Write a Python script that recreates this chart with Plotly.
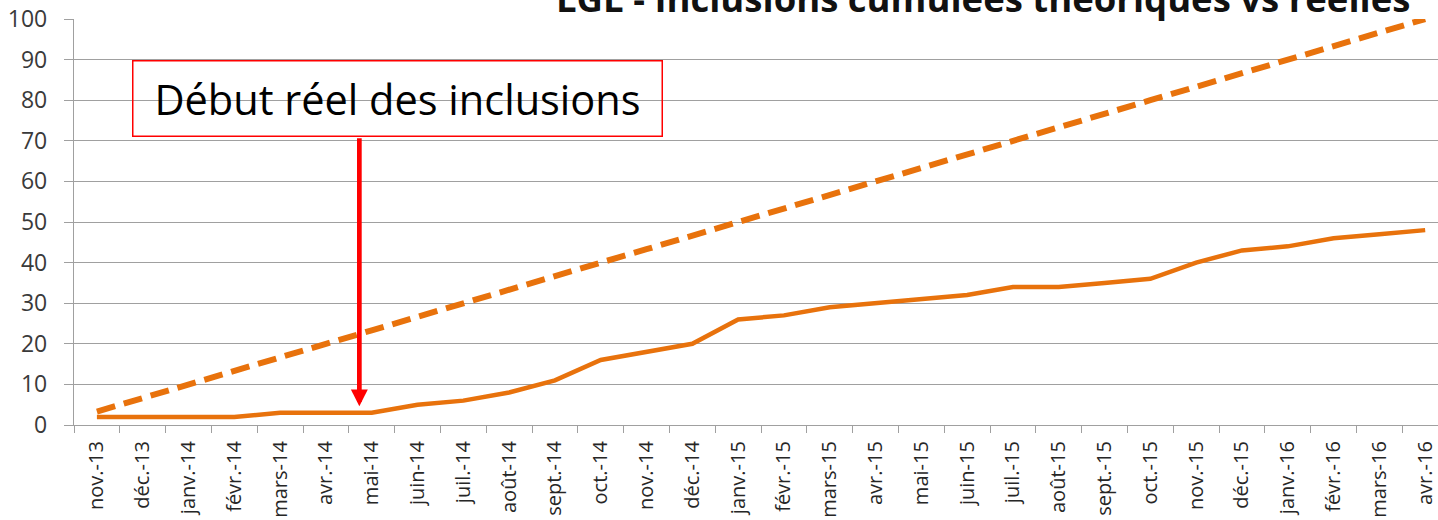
import plotly.graph_objects as go

months = ['nov.-13', 'déc.-13', 'janv.-14', 'févr.-14', 'mars-14', 'avr.-14', 'mai-14',
          'juin-14', 'juil.-14', 'août-14', 'sept.-14', 'oct.-14', 'nov.-14', 'déc.-14',
          'janv.-15', 'févr.-15', 'mars-15', 'avr.-15', 'mai-15', 'juin-15', 'juil.-15',
          'août-15', 'sept.-15', 'oct.-15', 'nov.-15', 'déc.-15', 'janv.-16', 'févr.-16',
          'mars-16', 'avr.-16']

theoretical = [3.3, 6.7, 10, 13.3, 16.7, 20, 23.3, 26.7, 30, 33.3, 36.7, 40, 43.3, 46.7, 50,
               53.3, 56.7, 60, 63.3, 66.7, 70, 73.3, 76.7, 80, 83.3, 86.7, 90, 93.3, 96.7, 100]

real = [2, 2, 2, 2, 3, 3, 3, 5, 6, 8, 11, 16, 18, 20, 26,
        27, 29, 30, 31, 32, 34, 34, 35, 36, 40, 43, 44, 46, 47, 48]

y_ticks = [0, 10, 20, 30, 40, 50, 60, 70, 80, 90, 100]

title_text = "LGL - Inclusions cumulées théoriques vs réelles"
note_text = "Début réel des inclusions"

ORANGE = "#E8720C"
GRID = "#A0A0A0"
FONT = "Open Sans"

fig = go.Figure()
fig.add_trace(go.Scatter(x=months, y=theoretical, mode="lines",
                         line=dict(color=ORANGE, width=6, dash="19px,9px"),
                         showlegend=False, hoverinfo="skip"))
fig.add_trace(go.Scatter(x=months, y=real, mode="lines",
                         line=dict(color=ORANGE, width=4.5),
                         showlegend=False, hoverinfo="skip"))

fig.update_layout(
    width=1438, height=520,
    margin=dict(l=74, r=0, t=19, b=95),
    paper_bgcolor="white", plot_bgcolor="white",
    font=dict(family=FONT, color="#3A3A3A"),
    xaxis=dict(type="category", range=[-0.5, 29.28], tickson="boundaries",
               ticks="outside", ticklen=7, tickcolor=GRID, tickwidth=1.3,
               showgrid=False, showline=True, linecolor=GRID, linewidth=1.3,
               tickangle=-90, tickfont=dict(size=20, family=FONT, color="#262626"),
               ticklabelstandoff=7, fixedrange=True),
    yaxis=dict(range=[0, 100], tickvals=y_ticks, ticks="outside", ticklen=9,
               tickcolor=GRID, tickwidth=1.3, showgrid=True, gridcolor=GRID,
               gridwidth=1.3, showline=True, linecolor=GRID, linewidth=1.3,
               zeroline=False, tickfont=dict(size=23, family=FONT, color="#3A3A3A"),
               ticklabelstandoff=12, fixedrange=True),
)

# Title (partly cut off at the top as in the reference)
fig.add_annotation(text="<b>" + title_text + "</b>", xref="paper", yref="paper",
                   x=0.6664, y=1, xanchor="center", yanchor="bottom", yshift=-6,
                   showarrow=False, font=dict(size=36.5, family=FONT, color="#111111"))

# Boxed note
fig.add_annotation(text=note_text, xref="x", yref="y", x=6.57, y=80.5,
                   xanchor="center", yanchor="middle", showarrow=False,
                   width=528, height=74, borderpad=0, bordercolor="#FF0000",
                   borderwidth=1.5, font=dict(size=41.5, family=FONT, color="#000000"))

# Red arrow
fig.add_annotation(text="", xref="x", yref="y", x=5.73, y=4.6,
                   axref="x", ayref="y", ax=5.73, ay=71.0, showarrow=True,
                   arrowhead=2, arrowwidth=4.7, arrowsize=0.72, arrowcolor="#FF0000",
                   standoff=0, startstandoff=0)

fig.write_html("out.html")
